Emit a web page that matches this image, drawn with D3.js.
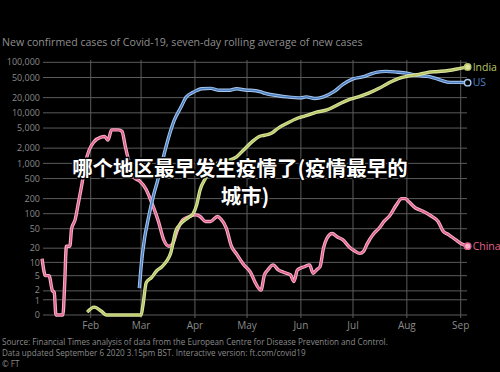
<!DOCTYPE html>
<html>
<head>
<meta charset="utf-8">
<script src="https://cdn.jsdelivr.net/npm/d3@7"></script>
<style>
  html, body { margin: 0; padding: 0; background: #000; }
  svg { display: block; }
</style>
</head>
<body>
<div id="container"></div>
<script>

// chart size
const width = 500;
const height = 372;

// tick labels
const yTicks = [0, 1, 2, 5, 10, 20, 50, 100, 200, 500, 1000, 2000, 5000, 10000, 20000, 50000, 100000];
const monthTicks = ["2020-02-01", "2020-03-01", "2020-04-01", "2020-05-01", "2020-06-01", "2020-07-01", "2020-08-01", "2020-09-01"];

// China
const chinaDates = ["2020-01-04","2020-01-06","2020-01-08","2020-01-10","2020-01-11","2020-01-12","2020-01-16","2020-01-17","2020-01-18","2020-01-20",
  "2020-01-21","2020-01-23","2020-01-25","2020-01-27","2020-01-29","2020-01-31","2020-02-03","2020-02-07","2020-02-09","2020-02-11",
  "2020-02-13","2020-02-17","2020-02-19","2020-02-21","2020-02-23","2020-02-26","2020-02-29","2020-03-04","2020-03-07","2020-03-11",
  "2020-03-14","2020-03-17","2020-03-19","2020-03-22","2020-03-25","2020-03-29","2020-04-01","2020-04-04","2020-04-07","2020-04-10",
  "2020-04-14","2020-04-16","2020-04-19","2020-04-22","2020-04-25","2020-04-29","2020-05-03","2020-05-06","2020-05-09","2020-05-11",
  "2020-05-13","2020-05-16","2020-05-19","2020-05-22","2020-05-26","2020-05-28","2020-05-30","2020-06-03","2020-06-06","2020-06-08",
  "2020-06-10","2020-06-12","2020-06-14","2020-06-16","2020-06-19","2020-06-22","2020-06-25","2020-06-29","2020-07-02","2020-07-05",
  "2020-07-07","2020-07-09","2020-07-13","2020-07-16","2020-07-19","2020-07-22","2020-07-26","2020-07-29","2020-07-31","2020-08-02",
  "2020-08-06","2020-08-10","2020-08-15","2020-08-19","2020-08-22","2020-08-25","2020-08-29","2020-09-02","2020-09-05"];
const chinaValues = [12, 5, 5, 2, 1.8, 0, 0, 3, 22, 22,
  50, 75, 170, 400, 1050, 1800, 2700, 3300, 3400, 2900,
  4600, 4600, 4300, 2100, 1100, 520, 450, 300, 170, 70,
  30, 22, 24, 48, 75, 88, 95, 88, 70, 70,
  88, 78, 52, 22, 15, 9, 6, 3.2, 2.1, 5.2,
  6.8, 8.8, 6.8, 6, 5.2, 3.6, 6.8, 8, 8.8, 5.7,
  6.8, 8, 20, 32, 40, 34, 30, 21, 17.5, 15.6,
  17, 24, 40, 51, 71, 90, 150, 200, 200, 175,
  130, 113, 90, 70, 44, 38, 30, 24, 22];

// US
const usDates = ["2020-02-29","2020-03-01","2020-03-03","2020-03-05","2020-03-08","2020-03-11","2020-03-14","2020-03-17","2020-03-20","2020-03-24",
  "2020-03-27","2020-03-31","2020-04-05","2020-04-10","2020-04-15","2020-04-21","2020-04-25","2020-05-01","2020-05-03","2020-05-09",
  "2020-05-11","2020-05-19","2020-05-24","2020-06-01","2020-06-04","2020-06-09","2020-06-14","2020-06-20","2020-06-25","2020-07-01",
  "2020-07-07","2020-07-10","2020-07-15","2020-07-20","2020-07-26","2020-08-01","2020-08-07","2020-08-14","2020-08-20","2020-08-26",
  "2020-09-01","2020-09-05"];
const usValues = [2.4, 8, 32, 75, 220, 520, 1400, 3400, 7000, 13000,
  20500, 25500, 30000, 30500, 28000, 28000, 30000, 28000, 28000, 26000,
  24500, 21800, 20700, 19800, 20700, 19200, 20700, 26200, 36000, 47000,
  52000, 56500, 64000, 66000, 64000, 61000, 55000, 52000, 45000, 40000,
  40000, 39500];

// India
const indiaDates = ["2020-01-30","2020-02-03","2020-02-07","2020-02-10","2020-03-01","2020-03-02","2020-03-04","2020-03-07","2020-03-10","2020-03-13",
  "2020-03-16","2020-03-18","2020-03-21","2020-03-24","2020-03-27","2020-03-29","2020-03-31","2020-04-02","2020-04-04","2020-04-07",
  "2020-04-11","2020-04-16","2020-04-21","2020-04-25","2020-04-29","2020-05-04","2020-05-08","2020-05-11","2020-05-15","2020-05-19",
  "2020-05-24","2020-05-30","2020-06-05","2020-06-10","2020-06-16","2020-06-22","2020-06-28","2020-07-04","2020-07-10","2020-07-16",
  "2020-07-21","2020-07-27","2020-08-02","2020-08-08","2020-08-13","2020-08-19","2020-08-25","2020-08-31","2020-09-05"];
const indiaValues = [0.14, 0.43, 0.2, 0, 0, 0.5, 3.4, 4.5, 6.5, 8,
  11, 15.6, 45, 64, 78, 87, 100, 150, 300, 500,
  860, 1080, 1160, 1350, 1840, 2700, 3400, 3600, 3950, 5000,
  6200, 7800, 9000, 10300, 11400, 14300, 17900, 20700, 24500, 30600,
  38000, 47700, 53700, 57500, 63000, 65700, 69000, 75000, 81000];

const seriesColors = { China: "#e2638f", US: "#4d7fc2", India: "#b9c766" };
const haloColors = { China: "#f7b3cb", US: "#a9c9ee", India: "#dde6a2" };

const parse = d3.utcParse("%Y-%m-%d");
const zip = (dates, values) => dates.map((d, i) => ({ date: parse(d), value: values[i] }));
const series = [
  { name: "China", points: zip(chinaDates, chinaValues) },
  { name: "US", points: zip(usDates, usValues) },
  { name: "India", points: zip(indiaDates, indiaValues) }
];

// scales
const x = d3.scaleUtc()
  .domain([parse("2020-02-01"), parse("2020-09-01")])
  .range([90.7, 460.7]);

const y = d3.scaleSymlog()
  .domain([0, 100000])
  .range([315, 62.3]);

const svg = d3.create("svg")
  .attr("width", width)
  .attr("height", height)
  .style("background", "#000");

svg.append("rect")
  .attr("width", width)
  .attr("height", height)
  .attr("fill", "#000");

const font = "'Open Sans', 'Noto Sans', sans-serif";

// title
svg.append("text")
  .attr("x", 2)
  .attr("y", 45.5)
  .attr("fill", "#8f8f8f")
  .style("font-family", font)
  .style("font-size", "10.6px")
  .text("New confirmed cases of Covid-19, seven-day rolling average of new cases");

// horizontal grid + y labels
const yAxis = svg.append("g");
yAxis.selectAll("line")
  .data(yTicks)
  .enter().append("line")
  .attr("x1", 43)
  .attr("x2", 467)
  .attr("y1", d => y(d))
  .attr("y2", d => y(d))
  .attr("stroke", "#5c5c5c")
  .attr("stroke-width", 1);

// 1 and 2 sit very close on the symlog scale, nudge them apart a little
const nudge = { 1: 0.7, 2: -0.7 };
yAxis.selectAll("text")
  .data(yTicks)
  .enter().append("text")
  .attr("x", 40)
  .attr("y", d => y(d) + (nudge[d] || 0))
  .attr("dy", "0.35em")
  .attr("text-anchor", "end")
  .attr("fill", "#8a8a8a")
  .style("font-family", font)
  .style("font-size", "9px")
  .text(d => d3.format(",")(d));

// vertical grid + month labels
const xAxis = svg.append("g");
xAxis.selectAll("line")
  .data(monthTicks)
  .enter().append("line")
  .attr("x1", d => x(parse(d)))
  .attr("x2", d => x(parse(d)))
  .attr("y1", 60)
  .attr("y2", 318)
  .attr("stroke", "#5c5c5c")
  .attr("stroke-width", 1);

xAxis.selectAll("text")
  .data(monthTicks)
  .enter().append("text")
  .attr("x", d => x(parse(d)))
  .attr("y", 328.5)
  .attr("text-anchor", "middle")
  .attr("fill", "#8a8a8a")
  .style("font-family", font)
  .style("font-size", "10px")
  .text(d => d3.utcFormat("%b")(parse(d)));

// lines
const line = d3.line()
  .x(d => x(d.date))
  .y(d => y(d.value))
  .curve(d3.curveMonotoneX);

const lines = svg.append("g");
series.forEach(s => {
  lines.append("path")
    .attr("d", line(s.points))
    .attr("fill", "none")
    .attr("stroke", haloColors[s.name])
    .attr("stroke-width", 3.4)
    .attr("stroke-linejoin", "round");
  lines.append("path")
    .attr("d", line(s.points))
    .attr("fill", "none")
    .attr("stroke", seriesColors[s.name])
    .attr("stroke-width", 1.5)
    .attr("stroke-linejoin", "round");
});

// end markers and labels
series.forEach(s => {
  const last = s.points[s.points.length - 1];
  svg.append("circle")
    .attr("cx", x(last.date))
    .attr("cy", y(last.value))
    .attr("r", 3.2)
    .attr("fill", s.name === "US" ? "#000" : haloColors[s.name])
    .attr("stroke", s.name === "US" ? haloColors[s.name] : seriesColors[s.name])
    .attr("stroke-width", 1.4);
  svg.append("text")
    .attr("x", x(last.date) + 5)
    .attr("y", y(last.value))
    .attr("dy", "0.35em")
    .attr("fill", seriesColors[s.name])
    .style("font-family", font)
    .style("font-size", "10.5px")
    .text(s.name);
});

// footer
const footer = [
  "Source: Financial Times analysis of data from the European Centre for Disease Prevention and Control.",
  "Data updated September 6 2020 3.15pm BST. Interactive version: ft.com/covid19",
  "\u00A9 FT"
];
svg.append("g").selectAll("text")
  .data(footer)
  .enter().append("text")
  .attr("x", 2)
  .attr("y", (d, i) => 344.5 + i * 11)
  .attr("fill", "#8a8a8a")
  .style("font-family", font)
  .style("font-size", "8.1px")
  .text(d => d);

// overlay caption
const caption = ["哪个地区最早发生疫情了(疫情最早的", "城市)"];
svg.append("g").selectAll("text")
  .data(caption)
  .enter().append("text")
  .attr("x", (d, i) => i === 0 ? 240 : 245)
  .attr("y", (d, i) => 176 + i * 28)
  .attr("text-anchor", "middle")
  .attr("fill", "#fff")
  .attr("stroke", "#000")
  .attr("stroke-width", 3)
  .attr("paint-order", "stroke")
  .style("font-family", "'Noto Sans CJK SC', sans-serif")
  .style("font-weight", "bold")
  .style("font-size", "20.5px")
  .text(d => d);

container.append(svg.node());

</script>
</body>
</html>
